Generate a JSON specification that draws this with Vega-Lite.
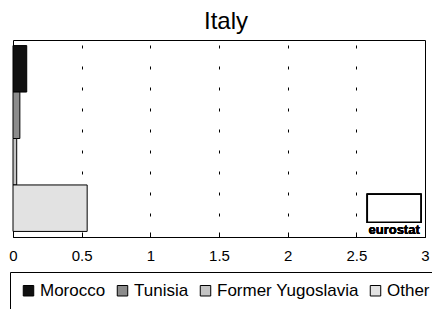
{
  "$schema": "https://vega.github.io/schema/vega-lite/v6.json",
  "width": 412,
  "height": 197,
  "autosize": {"type": "none"},
  "padding": {"left": 13, "top": 40, "right": 7, "bottom": 72},
  "background": "white",
  "title": {"text": "Italy", "fontSize": 24, "font": "Liberation Sans", "fontWeight": "normal", "color": "black", "offset": 6, "dx": 7},
  "config": {
    "view": {"stroke": "black", "strokeWidth": 1},
    "font": "Liberation Sans"
  },
  "data": {"values": [
    {"country": "Morocco", "value": 0.1},
    {"country": "Tunisia", "value": 0.05},
    {"country": "Former Yugoslavia", "value": 0.027},
    {"country": "Other", "value": 0.54}
  ]},
  "layer": [
    {
      "mark": {"type": "bar", "stroke": "black", "strokeWidth": 1},
      "encoding": {
        "y": {"field": "country", "type": "nominal", "sort": ["Morocco", "Tunisia", "Former Yugoslavia", "Other"], "scale": {"paddingInner": 0, "paddingOuter": 0.12}, "axis": null},
        "x": {"field": "value", "type": "quantitative", "scale": {"domain": [0, 3], "nice": false, "zero": true},
          "axis": {
            "title": null,
            "values": [0, 0.25, 0.5, 0.75, 1, 1.25, 1.5, 1.75, 2, 2.25, 2.5, 2.75, 3],
            "labelExpr": "datum.value % 0.5 == 0 ? format(datum.value, '~g') : ''",
            "labelFlush": false,
            "labelFontSize": 15,
            "labelColor": "black",
            "labelFont": "Liberation Sans",
            "labelPadding": 16,
            "tickSize": -5,
            "tickColor": "black",
            "domainColor": "black",
            "grid": true,
            "gridColor": "black",
            "gridDash": [3, 18],
            "gridOpacity": {"condition": {"test": "datum.value % 0.5 == 0 && datum.value > 0 && datum.value < 3", "value": 1}, "value": 0}
          }
        },
        "color": {"field": "country", "type": "nominal",
          "scale": {"domain": ["Morocco", "Tunisia", "Former Yugoslavia", "Other"], "range": ["#111111", "#8c8c8c", "#c4c4c4", "#e2e2e2"]},
          "legend": {
            "title": null,
            "orient": "none",
            "direction": "horizontal",
            "legendX": -3,
            "legendY": 232,
            "symbolType": "square",
            "symbolSize": 110,
            "symbolStrokeColor": "black",
            "symbolStrokeWidth": 1,
            "symbolOpacity": 1,
            "labelFontSize": 17,
            "labelColor": "black",
            "labelFont": "Liberation Sans",
            "labelOffset": 3,
            "columnPadding": 8,
            "padding": 10,
            "strokeColor": "black",
            "fillColor": "white"
          }
        }
      }
    },
    {
      "mark": {"type": "bar", "stroke": "black", "strokeWidth": 1.5, "fill": "white", "height": {"band": 0.6}, "yOffset": 0},
      "encoding": {
        "x": {"datum": 2.58, "type": "quantitative"},
        "x2": {"datum": 2.97},
        "y": {"datum": "Other", "type": "nominal"}
      }
    },
    {
      "mark": {"type": "text", "text": "eurostat", "fontWeight": "bold", "fontSize": 13, "font": "Liberation Sans", "color": "black", "baseline": "middle", "dy": 22},
      "encoding": {
        "x": {"datum": 2.775, "type": "quantitative"},
        "y": {"datum": "Other", "type": "nominal"}
      }
    }
  ]
}
